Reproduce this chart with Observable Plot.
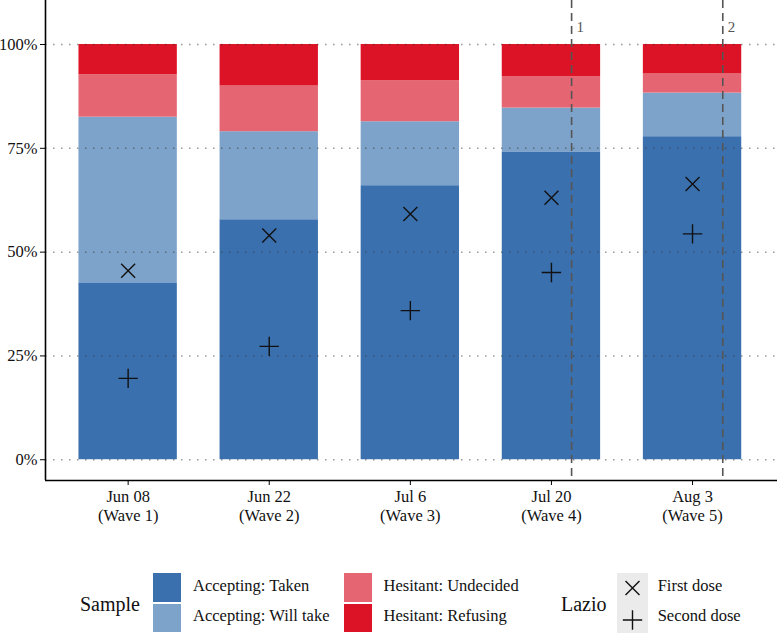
<!DOCTYPE html>
<html>
<head>
<meta charset="utf-8">
<script src="https://cdn.jsdelivr.net/npm/d3@7"></script>
<script src="https://cdn.jsdelivr.net/npm/@observablehq/plot@0.6"></script>
<style>
  html, body { margin: 0; padding: 0; background: #fff; }
  #wrap { position: relative; width: 777px; height: 636px; font-family: "Liberation Serif", "LiberationSerif", "Times New Roman", Times, "DejaVu Serif", serif; color: #111; }
  #chart svg { display: block; }
  .lg { position: absolute; white-space: nowrap; }
  .sw { position: absolute; width: 28px; }
  .lt { font-size: 16.5px; line-height: 1; }
  .ltitle { font-size: 20px; line-height: 1; }
</style>
</head>
<body>
<div id="wrap">
  <div id="chart"></div>
  <div id="legend"></div>
</div>
<script>
// ---------------- data ----------------
const waveDates = ["2021-06-08", "2021-06-22", "2021-07-06", "2021-07-20", "2021-08-03"];
const waveLabels = ["Jun 08\n(Wave 1)", "Jun 22\n(Wave 2)", "Jul 6\n(Wave 3)", "Jul 20\n(Wave 4)", "Aug 3\n(Wave 5)"];
const categories = ["Accepting: Taken", "Accepting: Will take", "Hesitant: Undecided", "Hesitant: Refusing"];
const colors = ["#3a70ae", "#7ea3ca", "#e56573", "#dc1327"];
// shares (%) per wave, bottom to top
const taken     = [42.6, 57.8, 66.0, 74.0, 77.8];
const willTake  = [39.9, 21.2, 15.4, 10.7, 10.5];
const undecided = [10.2, 11.0,  9.9,  7.6,  4.6];
const refusing  = [ 7.3, 10.0,  8.7,  7.7,  7.1];
// Lazio vaccination coverage (%)
const firstDose  = [45.5, 54.0, 59.2, 63.1, 66.4];
const secondDose = [19.6, 27.3, 35.9, 45.1, 54.4];
// policy reference lines
const eventDates = ["2021-07-22", "2021-08-06"];
const eventLabels = ["1", "2"];
const yTicks = [0, 0.25, 0.5, 0.75, 1];

// ---------------- build ----------------
const FONT = "'Liberation Serif', 'LiberationSerif', 'Times New Roman', Times, 'DejaVu Serif', serif";
const DAY = 864e5;
const parse = s => new Date(s + "T00:00:00Z");
const dates = waveDates.map(parse);
const shares = [taken, willTake, undecided, refusing];
const segs = [];
dates.forEach((d, i) => {
  let acc = 0;
  shares.forEach((arr, c) => {
    const v = arr[i] / 100;
    segs.push({date: d, cat: categories[c], y1: acc, y2: acc + v});
    acc += v;
  });
});
const half = 4.88 * DAY;
const doses = dates.map((d, i) => ({date: d, first: firstDose[i] / 100, second: secondDose[i] / 100}));
const events = eventDates.map((s, i) => ({date: parse(s), label: eventLabels[i]}));
const labelOf = new Map(dates.map((d, i) => [+d, waveLabels[i]]));

const xDomain = [new Date(+dates[0] - 8.2 * DAY), new Date(+dates[dates.length - 1] + 8.43 * DAY)];
const yDomain = [-0.05, 1.106];

const chart = Plot.plot({
  width: 777,
  height: 540,
  marginLeft: 45,
  marginRight: 0,
  marginTop: 0,
  marginBottom: 60,
  style: {fontFamily: FONT, fontSize: "16.5px", color: "#111", background: "#fff"},
  x: {type: "utc", domain: xDomain},
  y: {domain: yDomain},
  color: {domain: categories, range: colors},
  marks: [
    Plot.rect(segs, {
      x1: d => new Date(+d.date - half),
      x2: d => new Date(+d.date + half),
      y1: "y1", y2: "y2", fill: "cat"
    }),
    Plot.ruleY(yTicks, {stroke: "#333", strokeOpacity: 0.5, strokeWidth: 1.5, strokeDasharray: "1.5,6.5"}),
    Plot.ruleX(events, {x: "date", stroke: "#555", strokeWidth: 1.6, strokeDasharray: "8,5"}),
    Plot.text(events, {x: "date", y: 1.042, text: "label", dx: 5, textAnchor: "start", fill: "#555", fontSize: 15}),
    Plot.dot(doses, {x: "date", y: "first", symbol: "times", r: 6.4, stroke: "#111", strokeWidth: 1.4}),
    Plot.dot(doses, {x: "date", y: "second", symbol: "plus", r: 6.3, stroke: "#111", strokeWidth: 1.4}),
    Plot.ruleX([xDomain[0]], {stroke: "#000", strokeWidth: 1.6}),
    Plot.ruleY([yDomain[0]], {stroke: "#000", strokeWidth: 1.6}),
    Plot.axisY({ticks: yTicks, tickFormat: d3.format(".0%"), tickSize: 5, tickPadding: 3, label: null, fontSize: 16.5, stroke: "#000"}),
    Plot.axisX({ticks: dates, tickFormat: d => labelOf.get(+d), tickSize: 5, tickPadding: 4, label: null, fontSize: 16.5, lineHeight: 1.1, stroke: "#000"})
  ]
});
document.getElementById("chart").appendChild(chart);

// ---------------- legend ----------------
const L = document.getElementById("legend");
function add(html, style, cls) {
  const el = document.createElement("div");
  el.className = cls;
  el.innerHTML = html;
  Object.assign(el.style, style);
  L.appendChild(el);
  return el;
}
add("Sample", {left: "80px", top: "594px"}, "lg ltitle");
const swPos = [[152.7, 573.3, 29], [152.7, 604.3, 28], [343.7, 573.3, 29], [343.7, 604.3, 28]];
const txPos = [[193, 578], [193, 608], [383.5, 578], [383.5, 608]];
categories.forEach((c, i) => {
  add("", {left: swPos[i][0] + "px", top: swPos[i][1] + "px", height: swPos[i][2] + "px", background: colors[i]}, "sw");
  add(c, {left: txPos[i][0] + "px", top: txPos[i][1] + "px"}, "lg lt");
});
add("Lazio", {left: "561px", top: "594px"}, "lg ltitle");
add("", {left: "616.7px", top: "572.7px", width: "31px", height: "60.6px", background: "#ebebeb"}, "sw");
const symTimes = d3.symbol(d3.symbolTimes, Math.PI * 6.4 * 6.4)();
const symPlus = d3.symbol(d3.symbolPlus, Math.PI * 6.3 * 6.3)();
add(`<svg width="31" height="60" style="display:block"><path d="${symTimes}" transform="translate(15.5,15)" fill="none" stroke="#111" stroke-width="1.4"/><path d="${symPlus}" transform="translate(15.5,47)" fill="none" stroke="#111" stroke-width="1.4"/></svg>`,
  {left: "616.7px", top: "572.7px"}, "lg");
add("First dose", {left: "657.7px", top: "578px"}, "lg lt");
add("Second dose", {left: "657.7px", top: "608px"}, "lg lt");
</script>
</body>
</html>
